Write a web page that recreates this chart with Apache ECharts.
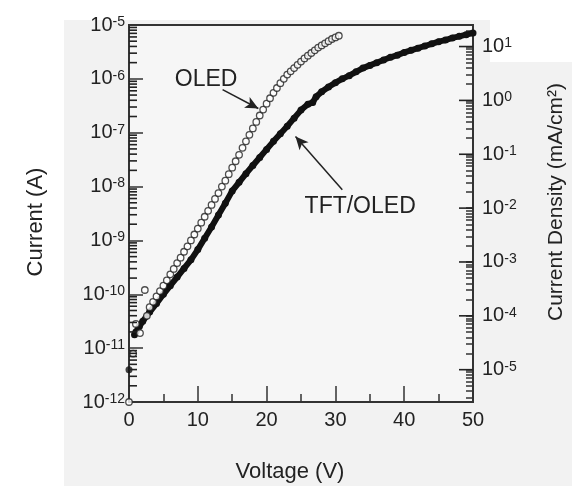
<!DOCTYPE html>
<html>
<head>
<meta charset="utf-8">
<script src="https://cdn.jsdelivr.net/npm/echarts@6/dist/echarts.min.js"></script>
<style>
  html, body { margin: 0; padding: 0; background: #fff; }
  #chart { width: 572px; height: 486px; }
</style>
</head>
<body>
<div id="chart"></div>
<script>
// values, current as log10(A)
const oledV = [0, 0.6, 1.0, 1.6, 2.3, 2.6,
  3, 3.5, 4, 4.5, 5, 5.5, 6, 6.5, 7, 7.5, 8, 8.5, 9, 9.5, 10, 10.5, 11, 11.5, 12, 12.5,
  13, 13.5, 14, 14.5, 15, 15.5, 16, 16.5, 17, 17.5, 18, 18.5, 19, 19.5, 20, 20.5, 21, 21.5,
  22, 22.5, 23, 23.5, 24, 24.5, 25, 25.5, 26, 26.5, 27, 27.5, 28, 28.5, 29, 29.5, 30, 30.5]
const oledLogI = [-12, -11.1, -10.55, -10.72, -9.92, -10.4,
  -10.24, -10.14, -10.04, -9.94, -9.84, -9.74, -9.63, -9.53, -9.42, -9.32,
  -9.21, -9.11, -9.0, -8.89, -8.78, -8.67, -8.56, -8.45, -8.34, -8.23,
  -8.12, -8.0, -7.89, -7.77, -7.65, -7.53, -7.41, -7.28, -7.16, -7.04,
  -6.92, -6.8, -6.68, -6.57, -6.46, -6.36, -6.26, -6.17, -6.08, -6.0,
  -5.92, -5.86, -5.80, -5.74, -5.68, -5.62, -5.57, -5.52, -5.47, -5.42,
  -5.38, -5.34, -5.30, -5.26, -5.23, -5.20]

const tftV = [0.8, 1, 1.5, 2,
  3, 4, 5, 6, 7, 8, 9, 10, 11, 12, 13, 14, 15, 16, 17, 18, 19, 20, 21, 22, 23, 24, 25, 26,
  26.7, 27.2,
  28, 29, 30, 31, 32, 33, 34, 35, 36, 37, 38, 39, 40, 41, 42, 43, 44, 45, 46, 47, 48, 49, 50]
const tftLogI = [-10.75, -10.7, -10.6, -10.5,
  -10.33, -10.17, -10.0, -9.84, -9.68, -9.52, -9.36, -9.17, -8.96, -8.75, -8.53, -8.31,
  -8.08, -7.92, -7.76, -7.61, -7.46, -7.31, -7.16, -7.02, -6.88, -6.73, -6.58, -6.47,
  -6.44, -6.33,
  -6.24, -6.15, -6.07, -6.0, -5.94, -5.87, -5.80, -5.75, -5.70, -5.65, -5.60, -5.56,
  -5.51, -5.47, -5.43, -5.39, -5.35, -5.31, -5.28, -5.24, -5.21, -5.18, -5.15]
const tftOffV = [0]
const tftOffLogI = [-11.4]

const rightDecades = [-5, -4, -3, -2, -1, 0, 1]
// right axis = current density, offset from current by the device area
const densityShift = 6.4

const FONT = 'Liberation Sans, Arial, Helvetica, sans-serif'
const INK = '#222'

function minorTicks(lo, hi) {
  const out = []
  for (let n = Math.floor(lo); n < hi; n++) {
    for (let k = 2; k <= 9; k++) {
      const v = n + Math.log10(k)
      if (v > lo && v < hi) out.push(+v.toFixed(4))
    }
  }
  return out
}

const rich = {
  b: { fontSize: 20, fontFamily: FONT, color: INK, lineHeight: 20 },
  s: { fontSize: 14, fontFamily: FONT, color: INK, lineHeight: 14, verticalAlign: 'top' }
}
const powLabel = v => '{b|10}{s|' + Math.round(v) + '}'

const tickStyle = { color: '#333', width: 1.5 }

const chart = echarts.init(document.getElementById('chart'))
chart.setOption({
  backgroundColor: '#fff',
  animation: false,
  graphic: [
    {
      type: 'polygon', z: -10, silent: true,
      shape: { points: [[64, 20], [490, 20], [490, 62], [572, 62], [572, 486], [64, 486]] },
      style: { fill: '#f2f2f2' }
    },
    {
      type: 'text', x: 36, y: 222, rotation: Math.PI / 2,
      style: { text: 'Current (A)', font: '22px ' + FONT, fill: INK, align: 'center', verticalAlign: 'middle' }
    },
    {
      type: 'text', x: 556, y: 202, rotation: Math.PI / 2,
      style: { text: 'Current Density (mA/cm²)', font: '21px ' + FONT, fill: INK, align: 'center', verticalAlign: 'middle' }
    },
    {
      type: 'text', x: 290, y: 472,
      style: { text: 'Voltage (V)', font: '22px ' + FONT, fill: INK, align: 'center', verticalAlign: 'middle' }
    }
  ],
  grid: {
    left: 129, right: 99, top: 25, bottom: 84,
    show: true, borderColor: '#333', borderWidth: 2, backgroundColor: '#f6f6f6'
  },
  xAxis: {
    type: 'value', min: 0, max: 50, interval: 10,
    axisLine: { show: true, onZero: false, lineStyle: { color: '#333', width: 2 } },
    axisTick: { inside: true, length: 16, lineStyle: tickStyle },
    minorTick: { show: true, splitNumber: 2, length: 8, lineStyle: tickStyle },
    splitLine: { show: false },
    axisLabel: { fontSize: 20, fontFamily: FONT, color: INK, margin: 8 }
  },
  yAxis: [
    {
      type: 'value', min: -12, max: -5, interval: 1, position: 'left',
      axisLine: { show: true, onZero: false, lineStyle: { color: '#333', width: 2 } },
      axisTick: { show: true, inside: true, length: 14, lineStyle: tickStyle },
      splitLine: { show: false },
      axisLabel: { formatter: powLabel, rich, margin: 4 }
    },
    {
      type: 'value', min: -12 + densityShift, max: -5 + densityShift, position: 'right',
      axisLine: { show: true, onZero: false, lineStyle: { color: '#333', width: 2 } },
      axisTick: { inside: true, length: 7, lineStyle: tickStyle,
        customValues: rightDecades.concat(minorTicks(-12 + densityShift, -5 + densityShift)) },
      axisLabel: { formatter: powLabel, rich, margin: 9, customValues: rightDecades },
      splitLine: { show: false }
    }
  ],
  series: [
    {
      // minor log ticks of the left axis
      type: 'custom', xAxisIndex: 0, yAxisIndex: 0, z: 10, clip: false,
      data: minorTicks(-12, -5).map(v => [0, v]),
      renderItem: (params, api) => {
        const p = api.coord([0, api.value(1)])
        return {
          type: 'line',
          shape: { x1: p[0], y1: p[1], x2: p[0] + 8, y2: p[1] },
          style: { stroke: '#222', lineWidth: 1.6 }
        }
      }
    },
    {
      // long decade ticks of the right axis
      type: 'custom', xAxisIndex: 0, yAxisIndex: 1, z: 10, clip: false,
      data: rightDecades.map(v => [50, v]),
      renderItem: (params, api) => {
        const p = api.coord([50, api.value(1)])
        return {
          type: 'line',
          shape: { x1: p[0], y1: p[1], x2: p[0] - 14, y2: p[1] },
          style: { stroke: '#222', lineWidth: 1.6 }
        }
      }
    },
    {
      name: 'TFT/OLED', type: 'line', yAxisIndex: 0,
      data: tftV.map((v, i) => [v, tftLogI[i]]),
      symbol: 'circle', symbolSize: 7, showAllSymbol: true,
      itemStyle: { color: '#111' },
      lineStyle: { color: '#111', width: 6 },
      z: 2
    },
    {
      name: 'TFT/OLED off', type: 'scatter', yAxisIndex: 0,
      data: tftOffV.map((v, i) => [v, tftOffLogI[i]]),
      symbolSize: 7, itemStyle: { color: '#111' }, z: 2
    },
    {
      name: 'OLED', type: 'scatter', yAxisIndex: 0,
      data: oledV.map((v, i) => [v, oledLogI[i]]),
      symbol: 'circle', symbolSize: 6.5,
      itemStyle: { color: '#fff', borderColor: '#222', borderWidth: 1.3 },
      z: 3,
      markLine: {
        silent: true, animation: false,
        symbol: ['none', 'arrow'], symbolSize: [9, 13],
        lineStyle: { color: INK, width: 1.5, type: 'solid' },
        label: { show: false },
        data: [
          [{ coord: [13.6, -6.2] }, { coord: [18.8, -6.55] }],
          [{ coord: [31.0, -8.06] }, { coord: [24.2, -7.07] }]
        ]
      },
      markPoint: {
        silent: true, symbol: 'rect', symbolSize: 1,
        itemStyle: { color: 'rgba(0,0,0,0)' },
        label: { show: true, position: 'inside', formatter: p => p.name,
          fontSize: 23, fontFamily: FONT, color: INK },
        data: [
          { name: 'OLED', coord: [11.2, -6.02] },
          { name: 'TFT/OLED', coord: [33.6, -8.38] }
        ]
      }
    }
  ]
})
</script>
</body>
</html>
